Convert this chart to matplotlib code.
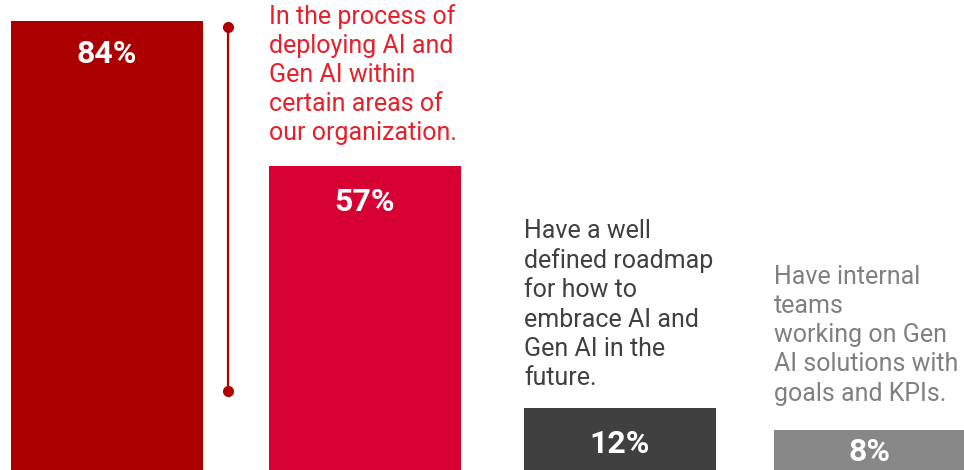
import matplotlib
matplotlib.use('Agg')
import matplotlib.pyplot as plt

# data
labels = ['',
          'In the process of\ndeploying AI and\nGen AI within\ncertain areas of\nour organization.',
          'Have a well\ndefined roadmap\nfor how to\nembrace AI and\nGen AI in the\nfuture.',
          'Have internal\nteams\nworking on Gen\nAI solutions with\ngoals and KPIs.']
values = [84, 57, 12, 8]
bar_colors = ['#AC0000', '#D70032', '#404040', '#878787']
text_colors = ['#AC0000', '#E8202A', '#404040', '#808080']

W, H = 964, 470
px_per_pt = 5.375
base = 472.5  # pixel row of the zero line

fig = plt.figure(figsize=(W / 100, H / 100), dpi=100)
ax = fig.add_axes([0, 0, 1, 1])
ax.set_xlim(0, W)
ax.set_ylim((base - H) / px_per_pt, base / px_per_pt)
ax.axis('off')

def py(p):
    # pixel row -> data value
    return (base - p) / px_per_pt

centers = [107, 365, 620, 870]
ax.bar(centers, values, width=192, color=bar_colors)

font = 'Roboto'
# value labels inside bars
val_rows = [54, 202, 444, 452]
for c, v, r in zip(centers, values, val_rows):
    ax.text(c, py(r), '%d%%' % v, color='white', fontsize=23, fontweight='bold',
            family=font, ha='center', va='center')

# category labels above bars
lab_left = [11, 269, 524, 774]
lab_top = [0, 4, 219, 265]
for i in range(1, 4):
    ax.text(lab_left[i], py(lab_top[i]), labels[i], color=text_colors[i], fontsize=18,
            family=font, ha='left', va='top', linespacing=1.27)

# bracket
ax.plot([228, 228], [py(27), py(391)], color='#B00000', lw=1.6, solid_capstyle='butt')
ax.plot([228, 228], [py(27), py(391)], 'o', color='#B00000', ms=7)

fig.savefig('out.png', dpi=100)
